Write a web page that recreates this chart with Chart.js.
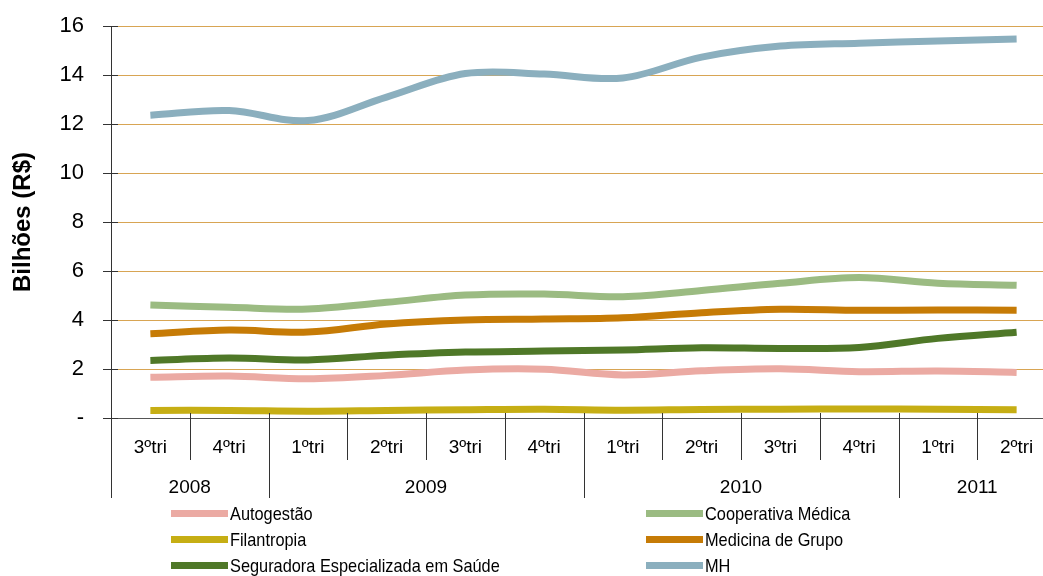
<!DOCTYPE html>
<html>
<head>
<meta charset="utf-8">
<script src="https://cdn.jsdelivr.net/npm/chart.js@4/dist/chart.umd.min.js"></script>
<style>
html,body{margin:0;padding:0;background:#fff;overflow:hidden;width:1043px;height:576px;}
#wrap{position:absolute;left:0;top:0;width:1070px;height:576px;}
</style>
</head>
<body>
<div id="wrap"><canvas id="c" width="1070" height="576"></canvas></div>
<script>
const categories = ['3ºtri','4ºtri','1ºtri','2ºtri','3ºtri','4ºtri','1ºtri','2ºtri','3ºtri','4ºtri','1ºtri','2ºtri'];
const years = ['2008','2009','2010','2011'];
const yearSpans = [2,4,4,2];
const yTicks = [0,2,4,6,8,10,12,14,16];

const autogestao  = [1.66,1.71,1.60,1.74,1.96,1.99,1.76,1.93,2.01,1.89,1.92,1.86];
const filantropia = [0.31,0.31,0.28,0.31,0.34,0.36,0.32,0.35,0.36,0.37,0.36,0.34];
const seguradora  = [2.35,2.45,2.37,2.56,2.69,2.73,2.78,2.87,2.84,2.88,3.25,3.50];
const cooperativa = [4.61,4.52,4.45,4.72,5.02,5.06,4.95,5.20,5.50,5.73,5.50,5.42];
const medicina    = [3.44,3.59,3.51,3.84,4.00,4.04,4.09,4.30,4.44,4.40,4.41,4.40];
const mh          = [12.36,12.55,12.14,13.10,14.06,14.04,13.88,14.73,15.18,15.30,15.39,15.47];

const seriesNames = ['Autogestão','Cooperativa Médica','Filantropia','Medicina de Grupo','Seguradora Especializada em Saúde','MH'];
const seriesData = [autogestao, cooperativa, filantropia, medicina, seguradora, mh];
const seriesColors = ['#EBAAA3','#9BBB82','#C6AE14','#C67B06','#4F7828','#8BAFBE'];

const FONT = "'Liberation Sans', Arial, sans-serif";

const extras = {
  id: 'extras',
  afterDraw(chart) {
    const ctx = chart.ctx;
    const x = chart.scales.x, y = chart.scales.y;
    const area = chart.chartArea;
    ctx.save();
    ctx.strokeStyle = '#333';
    ctx.lineWidth = 1;
    yTicks.forEach(v => {
      const py = Math.round(y.getPixelForValue(v)) + 0.5;
      ctx.beginPath(); ctx.moveTo(area.left, py); ctx.lineTo(area.left + 7, py); ctx.stroke();
    });
    const n = categories.length;
    const step = (area.right - area.left) / n;
    let yearBounds = [0];
    let acc = 0;
    yearSpans.forEach(s => { acc += s; yearBounds.push(acc); });
    for (let i = 0; i <= n; i++) {
      const px = Math.round(area.left + i * step) + 0.5;
      const long = yearBounds.includes(i);
      ctx.beginPath();
      ctx.moveTo(px, area.bottom - 5);
      ctx.lineTo(px, long ? 498 : 460);
      ctx.stroke();
    }
    ctx.fillStyle = '#000';
    ctx.font = '19px ' + FONT;
    ctx.textAlign = 'center';
    ctx.textBaseline = 'middle';
    years.forEach((yr, i) => {
      const a = yearBounds[i], b = yearBounds[i + 1];
      const cx = area.left + (a + b) / 2 * step;
      ctx.fillText(yr, cx, 488);
    });
    // legend (condensed text)
    ctx.font = '19px ' + FONT;
    ctx.textAlign = 'left';
    const cols = [171, 646];
    const rows = [514, 540, 566];
    const sx = 0.86;
    seriesNames.forEach((name, i) => {
      const cx = cols[i % 2], cy = rows[Math.floor(i / 2)];
      ctx.fillStyle = seriesColors[i];
      ctx.fillRect(cx, cy - 4, 57, 7);
      ctx.fillStyle = '#000';
      ctx.save();
      ctx.translate(cx + 59, cy + 1);
      ctx.scale(sx, 1);
      ctx.fillText(name, 0, 0);
      ctx.restore();
    });
    ctx.restore();
  }
};

new Chart(document.getElementById('c'), {
  type: 'line',
  data: {
    labels: categories,
    datasets: seriesNames.map((name, i) => ({
      label: name,
      data: seriesData[i],
      borderColor: seriesColors[i],
      backgroundColor: seriesColors[i],
      borderWidth: 7,
      pointRadius: 0,
      tension: 0.35,
      fill: false,
      borderCapStyle: 'butt'
    }))
  },
  options: {
    responsive: false,
    animation: false,
    layout: { padding: { left: 0, right: 14, top: 26, bottom: 0 } },
    plugins: { legend: { display: false }, tooltip: { enabled: false } },
    scales: {
      x: {
        offset: true,
        grid: { display: false, drawTicks: false },
        border: { display: true, color: '#555', width: 1 },
        ticks: { color: '#000', font: { family: FONT, size: 19 }, padding: 18, maxRotation: 0, autoSkip: false },
        afterFit(s) { s.height = 158; s.paddingLeft = 0; s.paddingRight = 0; }
      },
      y: {
        min: 0, max: 16,
        afterBuildTicks(s) { s.ticks = yTicks.map(v => ({ value: v })); },
        grid: { color: '#D8A553', lineWidth: 1, tickLength: 8, tickColor: '#333' },
        border: { display: true, color: '#333', width: 1 },
        ticks: { color: '#000', font: { family: FONT, size: 22 }, padding: 19,
                 callback: v => v === 0 ? '-' : String(v) },
        title: { display: true, text: 'Bilhões (R$)', color: '#000', font: { family: FONT, size: 24, weight: 'bold' }, padding: { top: 9, bottom: 0 } },
        afterFit(s) { s.width = 111; s.paddingTop = 0; s.paddingBottom = 0; }
      }
    }
  },
  plugins: [extras]
});
</script>
</body>
</html>
